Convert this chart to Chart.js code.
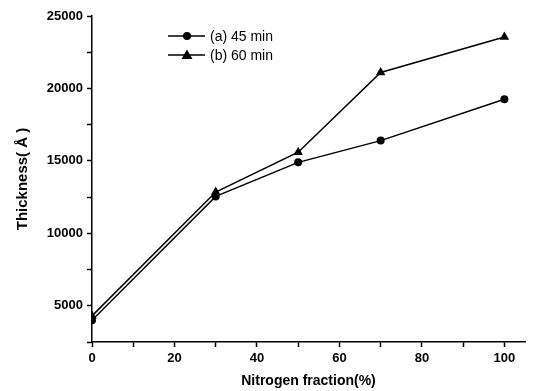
<!DOCTYPE html>
<html>
<head>
<meta charset="utf-8">
<script src="https://cdn.jsdelivr.net/npm/chart.js@4"></script>
<style>
  html, body { margin: 0; padding: 0; background: #fff; }
  #wrap { width: 534px; height: 391px; }
</style>
</head>
<body>
<div id="wrap"><canvas id="myChart" width="534" height="391"></canvas></div>
<script>
var nitrogen = [0, 30, 50, 70, 100];
var thickness45 = [4000, 12550, 14900, 16400, 19250];
var thickness60 = [4300, 12850, 15600, 21100, 23550];
var seriesLabels = ['(a) 45 min', '(b) 60 min'];
var yLabelTicks = [5000, 10000, 15000, 20000, 25000];
var xLabelTicks = [0, 20, 40, 60, 80, 100];

var fontFamily = '"Liberation Sans", Arial, sans-serif';

function toPoints(xs, ys) {
    var pts = [];
    for (var i = 0; i < xs.length; i++) {
        pts.push({ x: xs[i], y: ys[i] });
    }
    return pts;
}

// legend drawn inside the plot, line + marker + text
var insideLegend = {
    id: 'insideLegend',
    afterDraw: function (chart) {
        var ctx = chart.ctx;
        var area = chart.chartArea;
        var x0 = area.left + 76;
        var rows = [area.top + 20, area.top + 39];
        ctx.save();
        chart.data.datasets.forEach(function (ds, i) {
            var y = rows[i];
            ctx.strokeStyle = '#000';
            ctx.lineWidth = 1.5;
            ctx.beginPath();
            ctx.moveTo(x0, y);
            ctx.lineTo(x0 + 37, y);
            ctx.stroke();
            ctx.fillStyle = '#000';
            var mx = x0 + 19;
            if (ds.pointStyle === 'triangle') {
                ctx.beginPath();
                ctx.moveTo(mx, y - 5.5);
                ctx.lineTo(mx + 5.5, y + 4);
                ctx.lineTo(mx - 5.5, y + 4);
                ctx.closePath();
                ctx.fill();
            } else {
                ctx.beginPath();
                ctx.arc(mx, y, 4, 0, Math.PI * 2);
                ctx.fill();
            }
            ctx.font = '14px ' + fontFamily;
            ctx.textBaseline = 'middle';
            ctx.textAlign = 'left';
            ctx.fillText(ds.label, x0 + 42, y + 1);
        });
        ctx.restore();
    }
};

var ctx = document.getElementById('myChart').getContext('2d');
var myChart = new Chart(ctx, {
    type: 'line',
    data: {
        datasets: [{
            label: seriesLabels[0],
            data: toPoints(nitrogen, thickness45),
            borderColor: '#000',
            backgroundColor: '#000',
            borderWidth: 1.5,
            pointStyle: 'circle',
            pointRadius: 4,
            pointBorderWidth: 0
        }, {
            label: seriesLabels[1],
            data: toPoints(nitrogen, thickness60),
            borderColor: '#000',
            backgroundColor: '#000',
            borderWidth: 1.5,
            pointStyle: 'triangle',
            pointRadius: 5.5,
            pointBorderWidth: 0
        }]
    },
    options: {
        responsive: false,
        animation: false,
        layout: { padding: { top: 16, right: 9, left: 0, bottom: 0 } },
        plugins: {
            legend: { display: false },
            tooltip: { enabled: false }
        },
        scales: {
            x: {
                type: 'linear',
                min: 0,
                max: 105,
                afterFit: function (scale) { scale.height = 49; },
                ticks: {
                    stepSize: 10,
                    includeBounds: false,
                    color: '#000',
                    padding: 4,
                    maxRotation: 0,
                    autoSkip: false,
                    font: { family: fontFamily, size: 13, weight: 'bold' },
                    callback: function (v) { return xLabelTicks.indexOf(v) >= 0 ? String(v) : ''; }
                },
                grid: { drawOnChartArea: false, tickLength: 5, tickColor: '#000', tickWidth: 1.5 },
                border: { color: '#000', width: 1.5 },
                title: {
                    display: true,
                    text: 'Nitrogen fraction(%)',
                    color: '#000',
                    font: { family: fontFamily, size: 14, weight: 'bold' },
                    padding: { top: 0, bottom: 1 }
                }
            },
            y: {
                min: 2500,
                max: 25000,
                afterFit: function (scale) { scale.width = 92; },
                ticks: {
                    stepSize: 2500,
                    color: '#000',
                    padding: 4,
                    autoSkip: false,
                    font: { family: fontFamily, size: 13, weight: 'bold' },
                    callback: function (v) { return yLabelTicks.indexOf(v) >= 0 ? String(v) : ''; }
                },
                grid: { drawOnChartArea: false, tickLength: 5, tickColor: '#000', tickWidth: 1.5 },
                border: { color: '#000', width: 1.5 },
                title: {
                    display: true,
                    text: 'Thickness( Å )',
                    color: '#000',
                    font: { family: fontFamily, size: 15, weight: 'bold' },
                    padding: { top: 14, bottom: 0 }
                }
            }
        }
    },
    plugins: [insideLegend]
});
</script>
</body>
</html>
